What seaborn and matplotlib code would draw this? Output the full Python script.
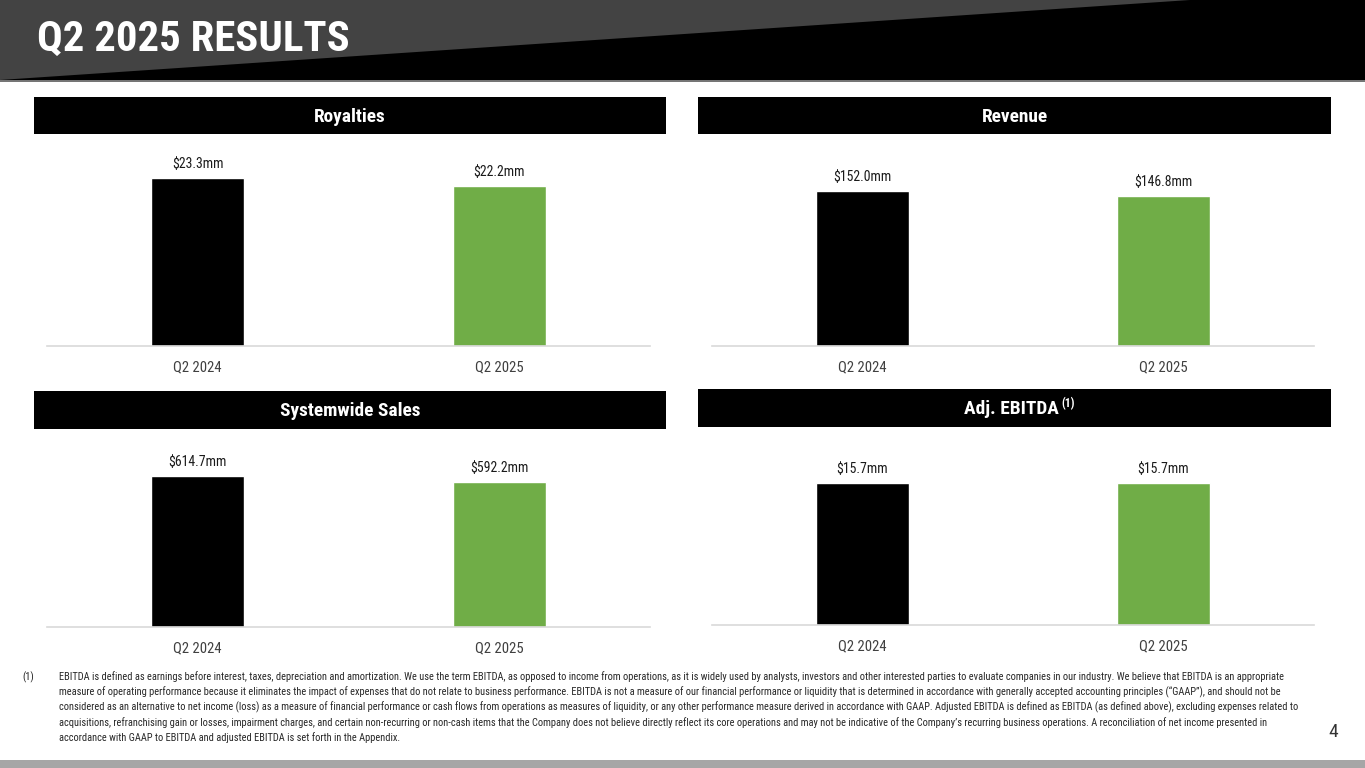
import os
import matplotlib
matplotlib.use('Agg')
import matplotlib.pyplot as plt
from matplotlib import font_manager as fm
from matplotlib.patches import Rectangle, Polygon
import seaborn as sns

sns.set_theme(style='white')
plt.rcParams['font.family'] = ['DejaVu Sans']

W, H = 1365, 768

# --- data ---
periods = ['Q2 2024', 'Q2 2025']
royalties = [23.3, 22.2]
revenue = [152.0, 146.8]
systemwide_sales = [614.7, 592.2]
adj_ebitda = [15.7, 15.7]
panel_titles = ['Royalties', 'Revenue', 'Systemwide Sales', 'Adj. EBITDA']
bar_colors = ['#000000', '#70AD47']

footnote = [
    "EBITDA is defined as earnings before interest, taxes, depreciation and amortization. We use the term EBITDA, as opposed to income from operations, as it is widely used by analysts, investors and other interested parties to evaluate companies in our industry. We believe that EBITDA is an appropriate",
    "measure of operating performance because it eliminates the impact of expenses that do not relate to business performance. EBITDA is not a measure of our financial performance or liquidity that is determined in accordance with generally accepted accounting principles (\u201cGAAP\u201d), and should not be",
    "considered as an alternative to net income (loss) as a measure of financial performance or cash flows from operations as measures of liquidity, or any other performance measure derived in accordance with GAAP. Adjusted EBITDA is defined as EBITDA (as defined above), excluding expenses related to",
    "acquisitions, refranchising gain or losses, impairment charges, and certain non-recurring or non-cash items that the Company does not believe directly reflect its core operations and may not be indicative of the Company\u2019s recurring business operations. A reconciliation of net income presented in",
    "accordance with GAAP to EBITDA and adjusted EBITDA is set forth in the Appendix.",
]


# pick a narrow face if one is installed, else DejaVu
def find_font(candidates, bold):
    files = {os.path.basename(f.fname): f.fname for f in fm.fontManager.ttflist}
    for c in candidates:
        if c in files:
            return fm.FontProperties(fname=files[c])
    return fm.FontProperties(family='DejaVu Sans', weight='bold' if bold else 'normal')


reg = find_font(['RobotoCondensed-Regular.ttf', 'LiberationSansNarrow-Regular.ttf',
                 'DejaVuSansCondensed.ttf', 'OpenSans_Condensed-Regular.ttf'], False)
bold = find_font(['RobotoCondensed-Bold.ttf', 'LiberationSansNarrow-Bold.ttf',
                  'DejaVuSansCondensed-Bold.ttf', 'OpenSans_Condensed-Bold.ttf'], True)
heavy = find_font(['RobotoCondensed-ExtraBold.ttf', 'RobotoCondensed-Black.ttf',
                   'RobotoCondensed-Bold.ttf', 'LiberationSansNarrow-Bold.ttf'], True)

fig = plt.figure(figsize=(W / 100, H / 100), dpi=100)
renderer = fig.canvas.get_renderer()


def sized(fp, s):
    p = fp.copy()
    p.set_size(s)
    return p


def fit_size(text, fp, target_px, base=10.0):
    t = fig.text(0, 0, text, fontproperties=sized(fp, base))
    w = t.get_window_extent(renderer=renderer).width
    t.remove()
    return base * target_px / w


# background layer in pixel coordinates
bg = fig.add_axes([0, 0, 1, 1])
bg.set_xlim(0, W)
bg.set_ylim(H, 0)
bg.axis('off')

bg.add_patch(Rectangle((0, 0), W, 80, color='#434343', lw=0))
bg.add_patch(Polygon([(0, 80), (1190, 0), (W, 0), (W, 80)], closed=True, color='#000000', lw=0))
bg.plot([0, W], [80.5, 80.5], color='#5a5a5a', lw=1.2)
bg.add_patch(Rectangle((0, 760), W, 8, color='#a6a6a6', lw=0))

title_size = min(fit_size('Q2 2025 RESULTS', heavy, 312), 36)
bg.text(37, 39, 'Q2 2025 RESULTS', color='white', fontproperties=sized(heavy, title_size),
        ha='left', va='center')

# panel title bars
bars_px = [(34, 97, 666, 134), (698, 97, 1331, 134), (34, 391, 666, 429), (698, 389, 1331, 427)]
head_size = min(fit_size('Royalties', bold, 72), 14)
for (x0, y0, x1, y1), name in zip(bars_px, panel_titles):
    bg.add_patch(Rectangle((x0, y0), x1 - x0, y1 - y0, color='#000000', lw=0))
    cx, cy = (x0 + x1) / 2, (y0 + y1) / 2
    if name.startswith('Adj'):
        bg.text(cx + 44, cy + 1, name, color='white', fontproperties=sized(bold, head_size),
                ha='right', va='center')
        bg.text(cx + 47, cy - 4, '(1)', color='white', fontproperties=sized(bold, head_size * 0.6),
                ha='left', va='center')
    else:
        bg.text(cx, cy + 1, name, color='white', fontproperties=sized(bold, head_size),
                ha='center', va='center')

# chart axes (left, top, right, bottom in px)
chart_px = [(47, 144, 650, 346), (712, 160, 1314, 346), (47, 446, 650, 627), (712, 455, 1314, 625)]
series = [royalties, revenue, systemwide_sales, adj_ebitda]
val_size = min(fit_size('$614.7mm', reg, 58), 13)
tick_size = min(fit_size('Q2 2024', reg, 48), 12)

for (l, t, r, b), vals in zip(chart_px, series):
    ax = fig.add_axes([l / W, 1 - b / H, (r - l) / W, (b - t) / H])
    ax.patch.set_alpha(0)
    sns.barplot(x=periods, y=vals, hue=periods, palette=bar_colors, width=0.31,
                saturation=1, legend=False, ax=ax)
    ax.set_xlim(-0.5, 1.5)
    ax.set_ylim(0, max(vals) * 1.2)
    ax.set_yticks([])
    ax.set_xlabel('')
    ax.set_ylabel('')
    for side in ['top', 'right', 'left']:
        ax.spines[side].set_visible(False)
    ax.spines['bottom'].set_color('#d9d9d9')
    ax.spines['bottom'].set_linewidth(1.2)
    ax.tick_params(axis='x', length=0, pad=10, colors='#404040')
    for lbl in ax.get_xticklabels():
        lbl.set_fontproperties(sized(reg, tick_size))
    for cont, v in zip(ax.containers, vals):
        ax.bar_label(cont, labels=[f'${v:.1f}mm'], padding=5, color='#1a1a1a',
                     fontproperties=sized(reg, val_size))

# footnote
foot_size = fit_size(footnote[0], reg, 1216)
bg.text(22, 677, '(1)', color='#262626', fontproperties=sized(reg, foot_size), va='center')
for i, line in enumerate(footnote):
    bg.text(59, 677 + i * 15.2, line, color='#262626', fontproperties=sized(reg, foot_size),
            va='center', ha='left')

bg.text(1333, 732, '4', color='#333333', fontproperties=sized(reg, 14), ha='center', va='center')

fig.savefig('out.png', dpi=100, facecolor='white')
plt.close(fig)
